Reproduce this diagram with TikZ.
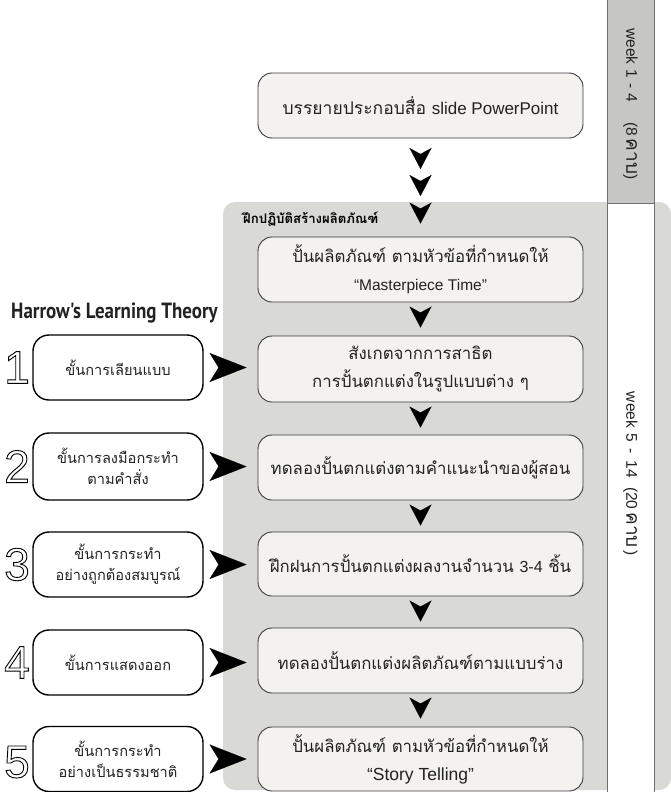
\documentclass[tikz,border=0pt]{standalone}
\usepackage{fontspec}
\setmainfont{Liberation Sans}
\newfontfamily\thai[Script=Thai]{Loma}
\newfontfamily\ptsans[FakeStretch=0.86]{PT Sans}
\usetikzlibrary{arrows.meta}
\definecolor{panelfill}{HTML}{D9D9D5}
\definecolor{boxfill}{HTML}{F3F2EF}
\definecolor{boxline}{HTML}{3A3A3A}
\definecolor{weekfill}{HTML}{C6C6C4}
\definecolor{weekline}{HTML}{6E6E6E}
\definecolor{txt}{HTML}{222222}
\newcommand\lat[2][17]{{\rmfamily\fontsize{#1}{28}\selectfont #2}}
\newcommand\outl[1]{\special{pdf:code 1 Tr 0.9 w}#1\special{pdf:code 0 Tr}}
\tikzset{
  mainbox/.style={draw=boxline, fill=boxfill, rounded corners=14pt, line width=0.9pt,
    minimum width=325pt, align=center, text=txt, inner sep=0pt,
    font=\thai\fontsize{16.8}{28}\selectfont},
  stepbox/.style={draw=black, fill=white, rounded corners=16pt, line width=1.4pt,
    minimum width=170pt, minimum height=65pt, align=center, text=txt, inner sep=0pt,
    font=\thai\fontsize{14.6}{21}\selectfont},
  darrow/.style={-{Stealth[length=21pt,width=22pt,inset=6pt]}, line width=0.1pt, black},
  rarrow/.style={-{Stealth[length=37pt,width=29pt,inset=9pt]}, line width=0.1pt, black},
  weektext/.style={rotate=-90, text=txt, font=\fontsize{15.5}{16}\selectfont},
  numtext/.style={font=\fontsize{46}{46}\selectfont, text=black, inner sep=0pt}
}
\begin{document}
\begin{tikzpicture}[x=1pt,y=-1pt]
\useasboundingbox (0,0) rectangle (671,792);
% practice panel
\fill[panelfill, rounded corners=12pt] (223,202) rectangle (671,790);
% week column
\draw[weekline, line width=1pt, fill=weekfill] (607,-2) rectangle (654,203);
\draw[weekline, line width=1pt, fill=white] (607,203) rectangle (654,794);
\node[weektext] (w1) at (630.5,104) {week\hspace{5pt}1\hspace{5pt}-\hspace{5pt}4\hspace{20pt}(8\hspace{3pt}{\thai\fontsize{19}{19}\selectfont คาบ})};
\node[weektext] (w2) at (630.5,474) {week\hspace{5pt}5\hspace{7pt}-\hspace{7pt}14\hspace{9pt}(20\hspace{3pt}{\thai\fontsize{19}{19}\selectfont คาบ}\hspace{3pt})};
% main boxes
\node[mainbox, minimum height=65pt] (b1) at (420.5,105.5) {{\fontsize{17.5}{28}\selectfont บรรยายประกอบสื่อ} \lat{slide PowerPoint}};
\node[mainbox, minimum height=65pt] (b2) at (420.5,269.5) {ปั้นผลิตภัณฑ์ ตามหัวข้อที่กำหนดให้\\\lat[15.5]{“Masterpiece Time”}};
\node[mainbox, minimum height=66pt] (b3) at (420.5,369) {สังเกตจากการสาธิต\\การปั้นตกแต่งในรูปแบบต่าง ๆ};
\node[mainbox, minimum height=65pt] (b4) at (420.5,467.5) {ทดลองปั้นตกแต่งตามคำแนะนำของผู้สอน};
\node[mainbox, minimum height=64pt] (b5) at (420.5,564) {ฝึกฝนการปั้นตกแต่งผลงานจำนวน \lat[16]{3-4} ชิ้น};
\node[mainbox, minimum height=65pt] (b6) at (420.5,660.5) {ทดลองปั้นตกแต่งผลิตภัณฑ์ตามแบบร่าง};
\node[mainbox, minimum height=64pt] (b7) at (420.5,759) {ปั้นผลิตภัณฑ์ ตามหัวข้อที่กำหนดให้\\\lat[17.5]{“Story Telling”}};
% label of panel
\node[anchor=west, inner sep=0pt, text=black, font=\thai\bfseries\fontsize{13.2}{14}\selectfont] (lab) at (243,219) {ฝึกปฏิบัติสร้างผลิตภัณฑ์};
% down arrows
\coordinate (m1) at (420.5,171);
\coordinate (m2) at (420.5,200);
\draw[darrow, shorten <=16pt, shorten >=2pt] (b1.south) -- (m1);
\draw[darrow, shorten <=10pt, shorten >=4pt] (m1) -- (m2);
\draw[darrow, shorten <=9pt, shorten >=13pt] (m2) -- (b2.north);
\draw[darrow, shorten <=11pt, shorten >=8pt] (b2.south) -- (b3.north);
\draw[darrow, shorten <=11pt, shorten >=7pt] (b3.south) -- (b4.north);
\draw[darrow, shorten <=11pt, shorten >=6pt] (b4.south) -- (b5.north);
\draw[darrow, shorten <=11pt, shorten >=6pt] (b5.south) -- (b6.north);
\draw[darrow, shorten <=11pt, shorten >=8pt] (b6.south) -- (b7.north);
% Harrow
\node[anchor=west, inner sep=0pt, text=txt, font=\ptsans\bfseries\fontsize{22}{22}\selectfont] (har) at (11,313) {Harrow's Learning Theory};
% step boxes
\node[stepbox] (l1) at (118,367.5) {ขั้นการเลียนแบบ};
\node[stepbox, minimum height=67pt] (l2) at (118,466.5) {ขั้นการลงมือกระทำ\\ตามคำสั่ง};
\node[stepbox] (l3) at (118,564.5) {ขั้นการกระทำ\\อย่างถูกต้องสมบูรณ์};
\node[stepbox] (l4) at (118,662.5) {ขั้นการแสดงออก};
\node[stepbox] (l5) at (118,759) {ขั้นการกระทำ\\อย่างเป็นธรรมชาติ};
% right arrows
\foreach \i/\j in {l1/b3,l2/b4,l3/b5,l4/b6,l5/b7}{
  \draw[rarrow, shorten <=16pt, shorten >=11pt] (\i.east) -- (\i.east -| \j.west);
}
% numbers
\node[numtext] (n1) at (17,367.5) {\outl{1}};
\node[numtext] (n2) at (17,466.5) {\outl{2}};
\node[numtext] (n3) at (17,564.5) {\outl{3}};
\node[numtext] (n4) at (17,662.5) {\outl{4}};
\node[numtext] (n5) at (17,762) {\outl{5}};
\end{tikzpicture}
\end{document}
